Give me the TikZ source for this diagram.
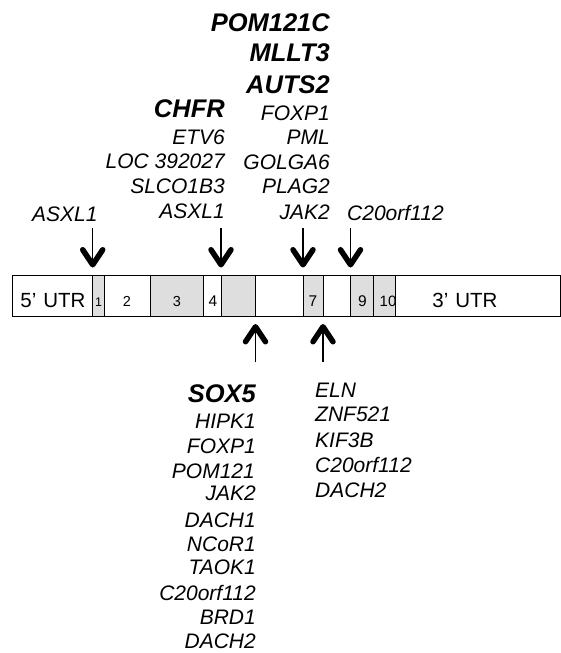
\documentclass[tikz,border=0pt]{standalone}
\usepackage{fontspec}
\setmainfont{Liberation Sans}
\usetikzlibrary{arrows.meta}
\definecolor{exongray}{HTML}{DEDEDE}
\begin{document}
\begin{tikzpicture}[x=1pt,y=-1pt,
  seg/.style={draw=black, line width=0.9pt, minimum height=41pt, inner sep=0pt, outer sep=0pt},
  gene/.style={font=\fontsize{21}{24}\selectfont\itshape, inner sep=0pt},
  bgene/.style={font=\fontsize{25.5}{30}\selectfont\bfseries\itshape, inner sep=0pt},
  utr/.style={font=\fontsize{20.5}{23}\selectfont, inner sep=0pt, anchor=base},
  exnum/.style={inner sep=0pt, anchor=base},
  brk/.style={line width=1.4pt, -{Straight Barb[length=15pt,width=20pt,line width=5.5pt,round]}}]
\useasboundingbox (0,0) rectangle (561,653);

% gene body: UTRs and exons, left to right
\foreach \a/\b/\c/\n in {12/92.7/white/utr5, 92.7/104/exongray/e1, 104/150/white/e2,
    150/203.5/exongray/e3, 203.5/221/white/e4, 221/255.5/exongray/e5, 255.5/303/white/e6,
    303/323/exongray/e7, 323/350.5/white/e8, 350.5/373/exongray/e9, 373/395/exongray/e10,
    395/560/white/utr3}
  \node[seg, fill=\c, minimum width={(\b-\a)*1pt}] (\n) at ({(\a+\b)/2},295.5) {};

% segment labels
\node[utr] (l5) at (53,307) {5’\kern7pt UTR};
\node[exnum, font=\fontsize{12.5}{14}\selectfont] (n1) at (98.5,306) {1};
\node[exnum, font=\fontsize{14.5}{16}\selectfont] (n2) at (127,306) {2};
\node[exnum, font=\fontsize{14.5}{16}\selectfont] (n3) at (177,306) {3};
\node[exnum, font=\fontsize{15.5}{17}\selectfont] (n4) at (213,306) {4};
\node[exnum, font=\fontsize{15.5}{17}\selectfont] (n7) at (313,306) {7};
\node[exnum, font=\fontsize{15.5}{17}\selectfont] (n9) at (362.5,306) {9};
\node[exnum, font=\fontsize{15}{17}\selectfont] (n10) at (388,306) {10};
\node[utr] (l3) at (465,307) {3’\kern7pt UTR};

% partner genes, breakpoints above the gene
\node[gene, anchor=base west] (a0) at (32,221) {ASXL1};

\node[bgene, anchor=base east] (b0) at (225,117) {CHFR};
\node[gene, anchor=base east] (b1) at (225,144) {ETV6};
\node[gene, anchor=base east] (b2) at (225,168) {LOC 392027};
\node[gene, anchor=base east] (b3) at (225,193) {SLCO1B3};
\node[gene, anchor=base east] (b4) at (225,218) {ASXL1};

\node[bgene, anchor=base east] (c0) at (330,31.7) {POM121C};
\node[bgene, anchor=base east] (c1) at (330,61.7) {MLLT3};
\node[bgene, anchor=base east] (c2) at (330,93) {AUTS2};
\node[gene, anchor=base east] (c3) at (330,120) {FOXP1};
\node[gene, anchor=base east] (c4) at (330,144) {PML};
\node[gene, anchor=base east] (c5) at (330,169) {GOLGA6};
\node[gene, anchor=base east] (c6) at (330,193) {PLAG2};
\node[gene, anchor=base east] (c7) at (330,219) {JAK2};

\node[gene, anchor=base west] (d0) at (347,220) {C20orf112};

% partner genes, breakpoints below the gene
\node[bgene, anchor=base east] (s0) at (256,402) {SOX5};
\node[gene, anchor=base east] (s1) at (256,428) {HIPK1};
\node[gene, anchor=base east] (s2) at (256,453) {FOXP1};
\node[gene, anchor=base east] (s3) at (255,478) {POM121};
\node[gene, anchor=base east] (s4) at (256,500) {JAK2};
\node[gene, anchor=base east] (s5) at (256,527) {DACH1};
\node[gene, anchor=base east] (s6) at (256,551) {NCoR1};
\node[gene, anchor=base east] (s7) at (256,574) {TAOK1};
\node[gene, anchor=base east] (s8) at (256,600) {C20orf112};
\node[gene, anchor=base east] (s9) at (256,624) {BRD1};
\node[gene, anchor=base east] (s10) at (256,648.5) {DACH2};

\node[gene, anchor=base west] (r0) at (315,397) {ELN};
\node[gene, anchor=base west] (r1) at (315,421) {ZNF521};
\node[gene, anchor=base west] (r2) at (315,447) {KIF3B};
\node[gene, anchor=base west] (r3) at (315,472) {C20orf112};
\node[gene, anchor=base west] (r4) at (315,497) {DACH2};

% breakpoint arrows at exon boundaries
\foreach \s/\k in {e1/1, e5/2, e7/3, e9/4} {
  \coordinate (dt\k) at ([yshift=47pt]\s.north west);
  \coordinate (dh\k) at ([yshift=7.5pt]\s.north west);
  \draw[brk] (dt\k) -- (dh\k);
}
\foreach \s/\k in {e6/1, e8/2} {
  \coordinate (ut\k) at ([yshift=-46pt]\s.south west);
  \coordinate (uh\k) at ([yshift=-8pt]\s.south west);
  \draw[brk] (ut\k) -- (uh\k);
}
\end{tikzpicture}
\end{document}
